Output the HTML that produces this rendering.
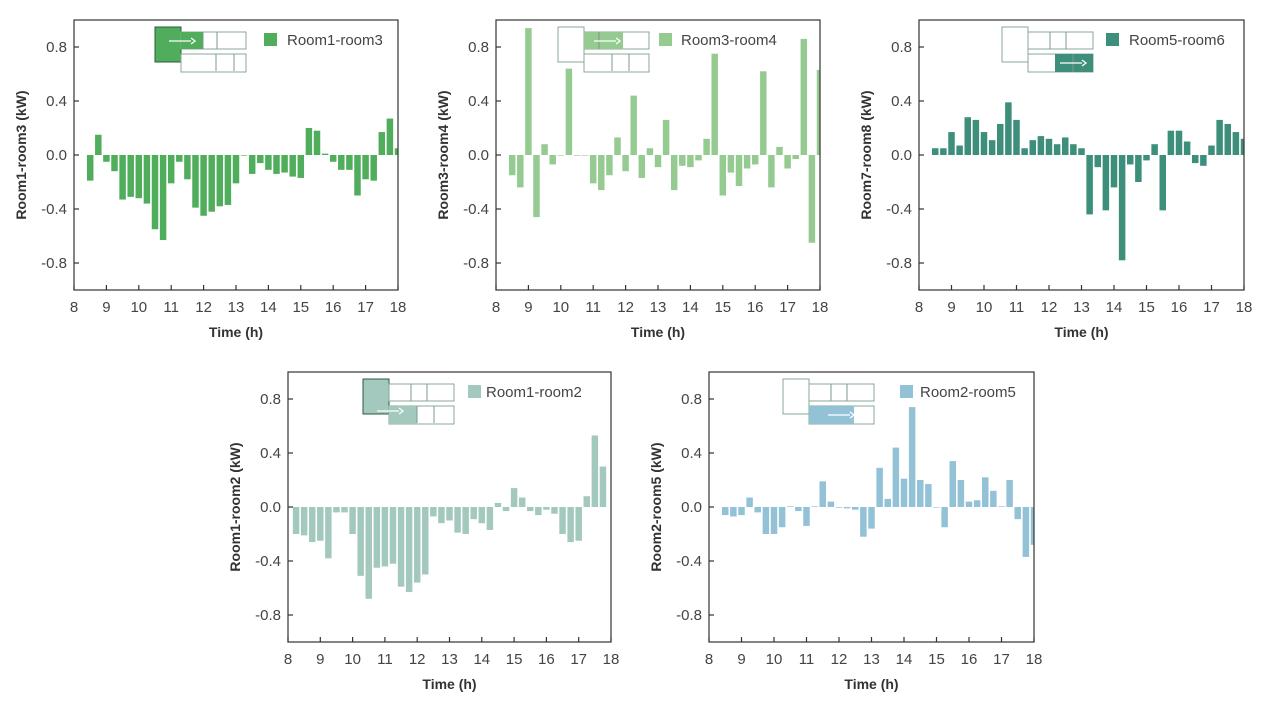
<!DOCTYPE html>
<html><head><meta charset="utf-8">
<style>
body{margin:0;background:#fff;width:1269px;height:704px;overflow:hidden;font-family:"Liberation Sans",sans-serif;}
svg{display:block}
</style></head>
<body>
<svg id="root" width="1269" height="704"></svg>
<script>
const timesA = [8.5,8.75,9,9.25,9.5,9.75,10,10.25,10.5,10.75,11,11.25,11.5,11.75,12,12.25,12.5,12.75,13,13.25,13.5,13.75,14,14.25,14.5,14.75,15,15.25,15.5,15.75,16,16.25,16.5,16.75,17,17.25,17.5,17.75,18];
const timesB = [8.25,8.5,8.75,9,9.25,9.5,9.75,10,10.25,10.5,10.75,11,11.25,11.5,11.75,12,12.25,12.5,12.75,13,13.25,13.5,13.75,14,14.25,14.5,14.75,15,15.25,15.5,15.75,16,16.25,16.5,16.75,17,17.25,17.5,17.75];
const vals13 = [-0.19,0.15,-0.05,-0.12,-0.33,-0.31,-0.32,-0.36,-0.55,-0.63,-0.21,-0.05,-0.18,-0.39,-0.45,-0.42,-0.38,-0.37,-0.21,-0.003,-0.14,-0.06,-0.11,-0.14,-0.13,-0.16,-0.17,0.20,0.18,0.01,-0.05,-0.11,-0.11,-0.30,-0.18,-0.19,0.17,0.27,0.05];
const vals34 = [-0.15,-0.24,0.94,-0.46,0.08,-0.07,0,0.64,-0.005,0,-0.21,-0.26,-0.15,0.13,-0.12,0.44,-0.17,0.05,-0.09,0.26,-0.26,-0.08,-0.09,-0.04,0.12,0.75,-0.30,-0.13,-0.23,-0.10,-0.07,0.62,-0.24,0.06,-0.10,-0.03,0.86,-0.65,0.63];
const vals56 = [0.05,0.05,0.17,0.07,0.28,0.26,0.17,0.11,0.23,0.39,0.26,0.05,0.11,0.14,0.12,0.08,0.13,0.08,0.05,-0.44,-0.09,-0.41,-0.24,-0.78,-0.07,-0.20,-0.04,0.08,-0.41,0.18,0.18,0.10,-0.06,-0.08,0.07,0.26,0.23,0.17,0.12];
const vals12 = [-0.20,-0.21,-0.26,-0.25,-0.38,-0.04,-0.04,-0.20,-0.51,-0.68,-0.45,-0.44,-0.42,-0.59,-0.63,-0.56,-0.50,-0.07,-0.12,-0.10,-0.19,-0.20,-0.09,-0.12,-0.17,0.03,-0.03,0.14,0.07,-0.03,-0.06,-0.02,-0.05,-0.20,-0.26,-0.25,0.08,0.53,0.30];
const vals25 = [-0.06,-0.07,-0.06,0.07,-0.04,-0.20,-0.20,-0.15,0.005,-0.03,-0.14,0.005,0.19,0.04,-0.005,-0.01,-0.02,-0.22,-0.16,0.29,0.06,0.44,0.21,0.74,0.20,0.17,0,-0.15,0.34,0.20,0.04,0.05,0.22,0.12,0.005,0.20,-0.09,-0.37,-0.28];
const xTicks = [8,9,10,11,12,13,14,15,16,17,18];
const yTicks = [-0.8,-0.4,0.0,0.4,0.8];
const yTickLabels = ["-0.8","-0.4","0.0","0.4","0.8"];

const NS="http://www.w3.org/2000/svg";
const root=document.getElementById('root');
function mk(tag,attrs,parent){const e=document.createElementNS(NS,tag);for(const k in attrs)e.setAttribute(k,attrs[k]);(parent||root).appendChild(e);return e;}

function drawChart(cfg){
  const {L,T,W,H,times,vals,color,legend,ylabel,key,inset}=cfg;
  const g=mk('g',{});
  
  
  const xs=t=>L+(t-8)/10*W;
  const ys=v=>T+(1-v)/2*H;
  const clip=mk('clipPath',{id:'c'+key},g);
  mk('rect',{x:L,y:T,width:W,height:H},clip);
  const bars=mk('g',{'clip-path':'url(#c'+key+')'},g);
  const bw=0.2/10*W;
  times.forEach((t,i)=>{
    const v=vals[i];
    const y0=ys(0),y1=ys(v);
    const r=mk('rect',{x:xs(t)-bw/2,y:Math.min(y0,y1),width:bw,height:Math.max(Math.abs(y1-y0),0.6),fill:color},bars);
    
    
  });
  // frame
  const fr=mk('rect',{x:L,y:T,width:W,height:H,fill:'none',stroke:'#333','stroke-width':1.2},g);
  
  
  xTicks.forEach(t=>{
    mk('line',{x1:xs(t),x2:xs(t),y1:T+H,y2:T+H-5,stroke:'#333','stroke-width':1.2},g);
    const tx=mk('text',{x:xs(t),y:T+H+22,'text-anchor':'middle','font-size':15,fill:'#444'},g);
    tx.textContent=t;
    
    
  });
  yTicks.forEach((v,i)=>{
    mk('line',{x1:L,x2:L+5,y1:ys(v),y2:ys(v),stroke:'#333','stroke-width':1.2},g);
    const tx=mk('text',{x:L-7,y:ys(v)+5,'text-anchor':'end','font-size':15,fill:'#444'},g);
    tx.textContent=yTickLabels[i];
    
    
  });
  const xt=mk('text',{x:L+W/2,y:T+H+47,'text-anchor':'middle','font-size':14,'font-weight':'bold',fill:'#333'},g);
  xt.textContent='Time (h)';
  
  
  const yt=mk('text',{x:0,y:0,'text-anchor':'middle','font-size':14,'font-weight':'bold',fill:'#333',transform:`translate(${L-48},${T+H/2}) rotate(-90)`},g);
  yt.textContent=ylabel;
  
  
  const lg=mk('g',{},g);
  
  
  mk('rect',{x:L+legend[0],y:T+13,width:13,height:13,fill:color},lg);
  const lt=mk('text',{x:L+legend[1],y:T+25,'font-size':15,fill:'#444'},lg);
  lt.textContent=cfg.name;
  // inset
  const ig=mk('g',{transform:`translate(${L+inset.dx},${T+7})`},g);
  
  
  const st={fill:'none',stroke:'#8aa89a','stroke-width':1};
  if(inset.big) mk('rect',{x:0,y:0,width:26,height:35,fill:inset.big==='f'?color:'none',stroke:inset.big==='f'?'#2d5a3a':'#8aa89a'},ig);
  mk('rect',Object.assign({x:26,y:5,width:65,height:17},st),ig);
  mk('rect',Object.assign({x:26,y:27,width:65,height:18},st),ig);
  inset.fills.forEach(f=>mk('rect',{x:f[0],y:f[1],width:f[2],height:f[3],fill:color},ig));
  inset.divs.forEach(d=>mk('line',{x1:d[0],x2:d[0],y1:d[1],y2:d[1]+(d[2]||17),stroke:'#7a9a8c'},ig));
  const a=inset.arrow;
  mk('line',{x1:a[0],x2:a[0]+22,y1:a[1],y2:a[1],stroke:'#fff','stroke-width':1.3},ig);
  mk('path',{d:`M${a[0]+22} ${a[1]-3} L${a[0]+26} ${a[1]} L${a[0]+22} ${a[1]+3}`,fill:'none',stroke:'#fff','stroke-width':1.3},ig);
}

drawChart({key:'r13',name:'Room1-room3',ylabel:'Room1-room3 (kW)',L:74,T:20,W:324,H:270,times:timesA,vals:vals13,color:'#4fad5b',legend:[190,213],
  inset:{dx:81,big:'f',fills:[[26,5,22,17]],divs:[[48,5],[62,5],[61,27],[79,27]],arrow:[14,14]}});
drawChart({key:'r34',name:'Room3-room4',ylabel:'Room3-room4 (kW)',L:496,T:20,W:324,H:270,times:timesA,vals:vals34,color:'#95cb91',legend:[163,185],
  inset:{dx:62,big:'o',fills:[[26,5,39,17]],divs:[[41,5],[54,27],[71,27]],arrow:[36,14]}});
drawChart({key:'r56',name:'Room5-room6',ylabel:'Room7-room8 (kW)',L:919,T:20,W:325,H:270,times:timesA,vals:vals56,color:'#3d8f7b',legend:[187,210],
  inset:{dx:83,big:'o',fills:[[53,27,38,18]],divs:[[48,5],[64,5],[71,27,18]],arrow:[58,36]}});
drawChart({key:'r12',name:'Room1-room2',ylabel:'Room1-room2 (kW)',L:288,T:372,W:323,H:270,times:timesB,vals:vals12,color:'#a3c8bd',legend:[180,198],
  inset:{dx:75,big:'f',fills:[[26,27,28,18]],divs:[[48,5],[64,5],[54,27],[71,27]],arrow:[14,32]}});
drawChart({key:'r25',name:'Room2-room5',ylabel:'Room2-room5 (kW)',L:709,T:372,W:325,H:270,times:timesA,vals:vals25,color:'#93c2d6',legend:[191,211],
  inset:{dx:74,big:'o',fills:[[26,27,45,18]],divs:[[48,5],[64,5]],arrow:[45,36]}});
</script>
</body></html>
